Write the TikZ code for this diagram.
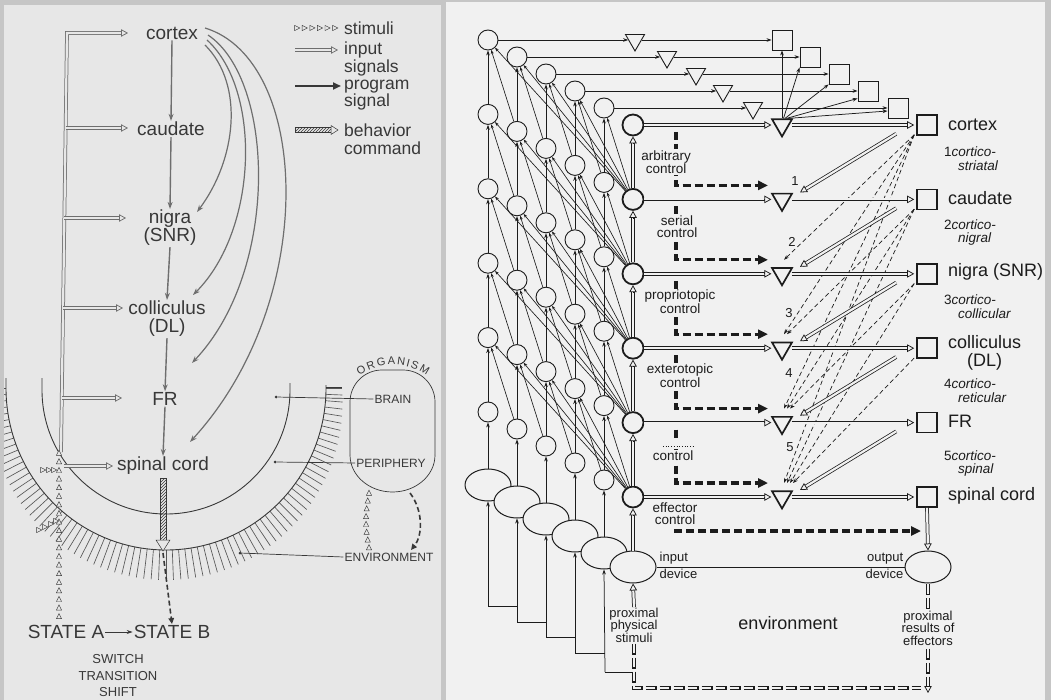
\documentclass[tikz,border=0pt]{standalone}
\usepackage{fontspec}
\setmainfont{Liberation Sans}
\usetikzlibrary{arrows.meta,patterns,calc,shapes.geometric}
\pgfdeclarelayer{back}
\pgfdeclarelayer{lines}
\pgfsetlayers{back,lines,main}
\definecolor{frameC}{HTML}{C6C6C6}
\definecolor{bgL}{HTML}{E7E7E7}
\definecolor{bgR}{HTML}{F1F1F1}
\definecolor{inkL}{HTML}{383838}
\definecolor{grayL}{HTML}{6E6E6E}
\definecolor{inkR}{HTML}{1C1C1C}
% hollow double arrow: [opts]{inner colour}{from}{to}
\newcommand{\dblarrow}[4][]{%
  \draw[line width=0.75pt, double=#2, double distance=2.2pt, shorten >=3pt, #1] #3 -- #4;
  \draw[line width=0.75pt, -{Triangle[length=7pt,width=7.5pt,fill=#2]}, #1] ($#4!7pt!#3$) -- #4;}
\newcommand{\utri}[2]{\draw[stim] (#1,#2) ++(-2.6,2.3) -- ++(5.2,0) -- ++(-2.6,-5.2) -- cycle;}
\newcommand{\rtri}[2]{\draw[stim] (#1,#2) ++(-2.4,-2.6) -- ++(5.2,2.6) -- ++(-5.2,2.6) -- cycle;}
\begin{document}
\begin{tikzpicture}[x=1pt,y=-1pt,
  lblL/.style={font=\fontsize{19}{18}\selectfont, text=inkL, inner sep=1pt, align=center},
  lgL/.style={font=\fontsize{17.5}{17.5}\selectfont, text=inkL, inner sep=0pt, anchor=west, align=left},
  capL/.style={font=\fontsize{12}{13}\selectfont, text=inkL, inner sep=1pt},
  garrow/.style={draw=grayL, line width=1.4pt, -{Stealth[length=7pt,width=5pt]}},
  gcurve/.style={draw=grayL, line width=1.2pt, -{Stealth[length=7pt,width=5pt]}},
  arcL/.style={draw=inkL, line width=0.9pt},
  hatch/.style={draw=inkL!85, line width=0.65pt},
  stim/.style={draw=inkL, line width=0.45pt, fill=bgL},
  thinL/.style={draw=inkL, line width=0.7pt},
  dotL/.style={fill=inkL, circle, inner sep=0pt, minimum size=3pt},
  progL/.style={draw=inkL, line width=1.6pt, dash pattern=on 5pt off 3pt, -{Triangle[length=6pt,width=5.5pt]}},
  thinR/.style={draw=inkR, line width=0.75pt},
  arrS/.style={-{Stealth[length=5pt,width=3.6pt]}},
  cir/.style={circle, draw=inkR, line width=0.9pt, fill=bgR, minimum size=20pt, inner sep=0pt},
  bcir/.style={circle, draw=inkR, line width=1.8pt, fill=bgR, minimum size=21pt, inner sep=0pt},
  ell/.style={ellipse, draw=inkR, line width=1pt, fill=bgR, minimum width=46pt, minimum height=32pt, inner sep=0pt},
  stri/.style={regular polygon, regular polygon sides=3, shape border rotate=180, draw=inkR, line width=0.9pt, fill=bgR, minimum size=22pt, inner sep=0pt},
  btri/.style={stri, line width=1.7pt, minimum size=23pt},
  ssq/.style={rectangle, draw=inkR, line width=0.9pt, fill=bgR, minimum size=20pt, inner sep=0pt},
  bsq/.style={ssq, line width=1.6pt},
  prog/.style={draw=inkR, line width=3.2pt, dash pattern=on 8pt off 4pt, -{Triangle[length=10pt,width=9pt]}},
  dashR/.style={draw=inkR, line width=0.7pt, dash pattern=on 4.5pt off 3pt, -{Stealth[length=5pt,width=3.5pt]}},
  rectdash/.style={draw=bgR, line width=2.6pt, dash pattern=on 9.4pt off 4.6pt, dash phase=13.3pt,
     preaction={draw=inkR, line width=4.2pt, dash pattern=on 11pt off 3pt}},
  lblR/.style={font=\fontsize{18}{18}\selectfont, text=inkR, inner sep=0pt, anchor=west, align=center},
  smallR/.style={font=\fontsize{13}{12.5}\selectfont, text=inkR, inner sep=0.5pt},
  ctl/.style={font=\fontsize{13.5}{12.5}\selectfont, align=center, fill=bgR, inner sep=1pt, text=inkR},
  itl/.style={font=\fontsize{13.5}{13}\selectfont\itshape, text=inkR, anchor=west, inner sep=0pt},
  numR/.style={font=\fontsize{13}{13}\selectfont, text=inkR, inner sep=0pt}
]
\useasboundingbox (0,0) rectangle (1051,700);
\begin{pgfonlayer}{back}
  \fill[frameC] (0,0) rectangle (1051,700);
  \fill[bgL] (4,5) rectangle (441,700);
  \fill[bgR] (446,2) rectangle (1045,700);
\end{pgfonlayer}

%================ LEFT PANEL ================
\begin{scope}
  \clip (4,5) rectangle (441,700);
  \foreach \t in {0,2.25,...,180}{
    \draw[hatch] ({166+160*cos(\t)},{388+162*sin(\t)}) -- ({166+(176+14*sin(\t))*cos(\t)},{388+(178+14*sin(\t))*sin(\t)});
  }
\end{scope}
\draw[arcL] (6,378) -- (6,388) arc[start angle=180,end angle=0,x radius=160,y radius=162] -- (326,385);
\draw[arcL] (326,387) -- (342,387);
\draw[arcL] (42,378) -- (42,390) arc[start angle=180,end angle=0,radius=124] -- (290,383);

\node[lblL] (cortex) at (172,33) {cortex};
\node[lblL] (caudate) at (171,129) {caudate};
\node[lblL] (nigra) at (170,228) {nigra\\(SNR)};
\node[lblL] (coll) at (167,319) {colliculus\\(DL)};
\node[lblL] (FR) at (165,399) {FR};
\node[lblL] (spinal) at (163,466) {spinal cord};

\draw[garrow] (cortex.south) -- (caudate.north);
\draw[garrow] (caudate.south) -- (nigra.north);
\draw[garrow] (nigra.south) -- (coll.north);
\draw[garrow] (coll.south) -- (FR.north);
\draw[garrow] (FR.south) -- (spinal.north);

\coordinate (cs1) at (205,45); \coordinate (ce1) at (197,212);
\coordinate (cs2) at (207,40); \coordinate (ce2) at (193,295);
\coordinate (cs3) at (208,35); \coordinate (ce3) at (192,363);
\coordinate (cs4) at (205,28); \coordinate (ce4) at (190,442);
\draw[gcurve] (cs1) .. controls (245,85) and (236,160) .. (ce1);
\draw[gcurve] (cs2) .. controls (262,90) and (258,230) .. (ce2);
\draw[gcurve] (cs3) .. controls (275,80) and (280,270) .. (ce3);
\draw[gcurve] (cs4) .. controls (310,60) and (320,300) .. (ce4);

% input signals
\coordinate (inB) at (61,452);
\coordinate (inT) at (67,33);
\coordinate (inC) at (128,33);
\draw[draw=grayL, line width=0.75pt, double=bgL, double distance=2.2pt, shorten >=3pt] (inB) -- (inT) -- (inC);
\draw[draw=grayL, line width=0.75pt, -{Triangle[length=7pt,width=7.5pt,fill=bgL]}] (121,33) -- (inC);
\foreach \y/\xe in {128/128, 218/126, 308/123, 398/122}{
  \pgfmathsetmacro\xs{67-6*(\y-33)/419}
  \dblarrow[draw=grayL]{bgL}{(\xs,\y)}{(\xe,\y)}
}
\dblarrow[draw=grayL]{bgL}{(64,466)}{(113,466)}

% stimuli
\foreach \i in {0,...,19}{\utri{59}{{453+8.6*\i}}}
\rtri{43}{470} \rtri{49}{470} \rtri{54}{470}
\rtri{39}{530} \rtri{45}{527} \rtri{51}{524} \rtri{56}{521}

% behavior command and state change
\fill[pattern=north east lines, pattern color=inkL] (160,478) rectangle (166,540);
\draw[thinL, line width=0.5pt] (160,478) rectangle (166,540);
\draw[thinL, line width=0.5pt, fill=bgL] (156,540) -- (170,540) -- (163,551) -- cycle;
\node[lblL] (stA) at (66,632) {STATE A};
\node[lblL] (stB) at (172,632) {STATE B};
\draw[progL] (163,553) -- (stB.north);
\draw[thinL, -{Stealth[length=6pt,width=4pt]}] (stA.east) -- (stB.west);
\node[capL, font=\fontsize{13}{16.5}\selectfont, align=center] (sw) at (118,676) {SWITCH\\TRANSITION\\SHIFT};

% legend
\foreach \i in {0,...,5}{\rtri{{297+7.6*\i}}{28}}
\node[lgL] (lgstim) at (344,28) {stimuli};
\dblarrow[draw=grayL]{bgL}{(295,50)}{(338,50)}
\node[lgL] (lgin) at (344,59) {input\\signals};
\draw[draw=inkL, line width=2.2pt, -{Triangle[length=8pt,width=7pt]}] (295,86) -- (341,86);
\node[lgL] (lgprog) at (344,95) {program\\signal};
\fill[pattern=north east lines, pattern color=inkL] (295,127.5) rectangle (331,132.5);
\draw[thinL, line width=0.5pt] (295,127.5) rectangle (331,132.5);
\draw[thinL, line width=0.5pt, fill=bgL] (331,125.5) -- (338,130) -- (331,134.5) -- cycle;
\node[lgL] (lgbeh) at (344,139) {behavior\\command};

% organism
\draw[thinL, rounded corners=32pt] (350,455) -- (350,370) -- (435,370) -- (435,455);
\draw[thinL] (350,455) arc[start angle=180,end angle=0,x radius=42.5,y radius=37];
\foreach \ch/\ang [count=\i] in {O/121,R/111,G/101.1,A/91.4,N/82.2,I/75.7,S/69.2,M/59.3}{
  \node[capL, font=\fontsize{11}{12}\selectfont, inner sep=0pt, rotate=\ang-90] (org\i) at ({393+62*cos(\ang)},{423-62*sin(\ang)}) {\ch};
}
\node[capL] (brain) at (393,399) {BRAIN};
\node[capL] (periph) at (391,463) {PERIPHERY};
\node[capL] (envL) at (389,557) {ENVIRONMENT};
\node[dotL] (dB) at (276,397) {};
\node[dotL] (dP) at (275,462) {};
\node[dotL] (dE) at (240,553) {};
\draw[thinL] (dB) -- (brain.west);
\draw[thinL] (dP) -- (periph.west);
\draw[thinL] (dE) -- (envL.west);
\foreach \i in {0,...,7}{\utri{{369-3*sin(\i*180/7)}}{{493+7.8*\i}}}
\draw[progL] (410,493) .. controls (423,510) and (423,535) .. (411,550);

%================ RIGHT PANEL ================
\foreach \c in {0,...,4}{
  \foreach \r in {0,...,5}{
    \node[cir] (n\c\r) at ({488+29*\c},{40+17*\c+74.4*\r}) {};
  }
  \node[ell] (e\c) at ({488+29*\c},{485+17*\c}) {};
}
\foreach \r in {0,...,5}{\node[bcir] (n5\r) at (633,{125+74.4*\r}) {};}
\node[ell] (e5) at (633,567) {};
\node[ell] (eo) at (928,567) {};

\foreach \c/\tx in {0/635,1/667,2/696,3/723,4/753}{\node[stri] (T\c) at (\tx,{40+17*\c}) {};}
\foreach \c/\sx in {0/782,1/810,2/839,3/868,4/898}{\node[ssq] (S\c) at (\sx,{40+17*\c}) {};}
\foreach \r in {0,...,5}{
  \node[btri] (TB\r) at (782,{125+74.4*\r}) {};
  \node[bsq] (Q\r) at (927,{125+74.4*\r}) {};
}

\begin{pgfonlayer}{lines}
  % column verticals
  \foreach \c in {0,...,4}{
    \draw[thinR, arrS] (e\c) -- (n\c5);
    \foreach \r [evaluate=\r as \rn using int(\r+1)] in {0,...,4}{
      \draw[thinR, arrS] (n\c\rn) -- (n\c\r);
    }
  }
  % diagonals
  \foreach \r [evaluate=\r as \rn using int(\r+1)] in {0,...,4}{
    \foreach \c in {0,...,4}{
      \draw[thinR, line width=0.65pt, -{Stealth[length=4pt,width=3pt]}] (n5\rn) -- (n\c\r);
    }
    \foreach \c [evaluate=\c as \cn using int(\c+1)] in {0,...,3}{
      \draw[thinR, line width=0.65pt, -{Stealth[length=4pt,width=3pt]}] (n\cn\rn) -- (n\c\r);
    }
  }
  % stair feed to the ellipses
  \coordinate (st0) at (488,606);
  \coordinate (st1) at (517,622);
  \coordinate (st2) at (546,637);
  \coordinate (st3) at (575,653);
  \coordinate (st4) at (605,672);
  \coordinate (st5) at (633,672);
  \foreach \c [evaluate=\c as \cn using int(\c+1)] in {0,...,4}{
    \draw[thinR, arrS] (st\c) -- (e\c.south);
    \draw[thinR] (st\c) -- (st\cn |- st\c);
  }
  % top row
  \foreach \c in {0,...,4}{
    \draw[thinR, arrS] (n\c0) -- (T\c);
    \draw[thinR, arrS] (T\c) -- (S\c);
  }
  \draw[thinR, arrS] (TB0.north) -- (S0.south);
  \draw[thinR, arrS] ($(TB0.north)+(1.5,0)$) -- (S1.south west);
  \draw[thinR, arrS] ($(TB0.north)+(3,0)$) -- (S2.south west);
  \draw[thinR, arrS] ($(TB0.north)+(4.5,0)$) -- ($(S3.south west)+(0,-3)$);
  \draw[thinR, arrS] ($(TB0.north)+(6,0)$) -- ($(S4.west)+(0,3)$);
  % program signals
  \foreach \r in {0,...,4}{
    \draw[prog] (676,{132+74.4*\r}) |- (768,{111+74.4*(\r+1)});
  }
  \draw[prog] (676,505) |- (921,531);
  % cortical projections (dashed)
  \foreach \k in {0,...,3}{
    \pgfmathtruncatemacro\rs{\k+2}
    \foreach \r in {\rs,...,5}{
      \draw[dashR] ($(Q\k.south west)+(-2,-1)$) -- ($(TB\r.center)+({2+3*\k},-14)$);
    }
  }
  \draw[thinR] (e5.east) -- (eo.west);
\end{pgfonlayer}

% double arrows of the main rows
\foreach \r in {0,...,5}{
  \coordinate (tbw\r) at ($(TB\r.west)+(-3,0)$);
  \coordinate (tbe\r) at ($(TB\r.east)+(2,0)$);
  \coordinate (qw\r) at ($(Q\r.west)+(-2,0)$);
  \dblarrow[draw=inkR]{bgR}{(n5\r.east)}{(tbw\r)}
  \dblarrow[draw=inkR]{bgR}{(tbe\r)}{(qw\r)}
}
\foreach \r [evaluate=\r as \rn using int(\r+1)] in {0,...,4}{
  \dblarrow[draw=inkR]{bgR}{(n5\rn.north)}{(n5\r.south)}
  \coordinate (cpa\r) at ($(Q\r.south west)+(-20,-2)$);
  \coordinate (cpb\r) at ($(TB\rn.center)+(18,-7)$);
  \dblarrow[draw=inkR]{bgR}{(cpa\r)}{(cpb\r)}
}
\dblarrow[draw=inkR]{bgR}{(e5.north)}{(n55.south)}
\dblarrow[draw=inkR]{bgR}{(Q5.south)}{(eo.north)}

% control labels
\node[ctl] (c0) at (666,162) {arbitrary\\control};
\node[ctl] (c1) at (677,226.5) {serial\\control};
\node[ctl] (c2) at (680,301.5) {propriotopic\\control};
\node[ctl] (c3) at (680,375.5) {exterotopic\\control};
\fill[bgR] (662,441) rectangle (694,449);
\draw[inkR, line width=0.7pt, dotted] (663,446) -- (693,446);
\node[ctl] (c4) at (673,456) {control};
\node[ctl] (c5) at (675,513.5) {effector\\control};

% numbers of the cortical projections
\node[numR] (k1) at (795,181) {1};
\node[numR] (k2) at (792,242) {2};
\node[numR] (k3) at (789,313) {3};
\node[numR] (k4) at (789,373) {4};
\node[numR] (k5) at (790,447) {5};

% structure labels
\node[lblR] (Lq0) at (948,125) {cortex};
\node[lblR] (Lq1) at (948,198) {caudate};
\node[lblR] (Lq2) at (948,272) {nigra (SNR)};
\node[lblR] (Lq3) at (948,353) {colliculus\\(DL)};
\node[lblR] (Lq4) at (948,421) {FR};
\node[lblR] (Lq5) at (948,496) {spinal cord};
\foreach \r/\ya/\yb/\num/\w in {0/152/166/1/striatal, 1/225/239/2/nigral, 2/300/314/3/collicular, 3/384/398/4/reticular, 4/456/470/5/spinal}{
  \node[itl] (ca\r) at (944,\ya) {\upshape\num\itshape cortico-};
  \node[itl] (cb\r) at (958,\yb) {\w};
}

% devices and environment
\node[smallR, anchor=south west] (inl1) at (659,565) {input};
\node[smallR, anchor=north west] (inl2) at (659,568) {device};
\node[smallR, anchor=south east] (outl1) at (904,565) {output};
\node[smallR, anchor=north east] (outl2) at (904,568) {device};
\node[lblR, anchor=center] (envR) at (788,623) {environment};
\node[smallR, align=center] (prox) at (634,625) {proximal\\physical\\stimuli};
\node[smallR, align=center] (proxR) at (928,628) {proximal\\results of\\effectors};
\dblarrow[draw=inkR]{bgR}{(prox.north)}{(e5.south)}
\coordinate (bl) at (634,688);
\coordinate (br) at (921,688);
\draw[rectdash] (prox.south) -- (bl) -- (br);
\draw[rectdash] (eo.south) -- (proxR.north);
\coordinate (oc1) at (928,648);
\coordinate (oc2) at (928,679);
\coordinate (oc3) at (928,693);
\draw[rectdash] (oc1) -- (oc2);
\dblarrow[draw=inkR]{bgR}{(oc2)}{(oc3)}
\end{tikzpicture}
\end{document}
